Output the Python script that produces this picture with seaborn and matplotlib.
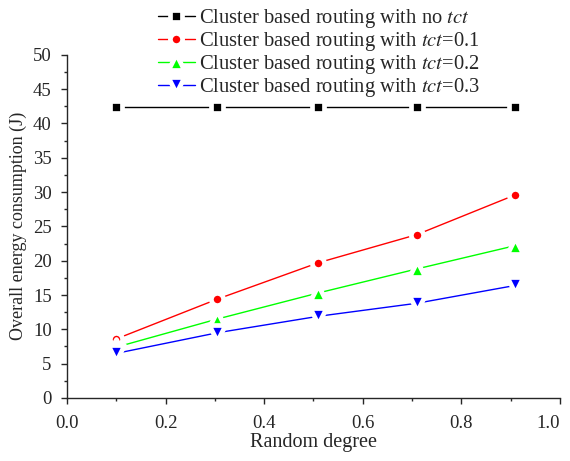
import matplotlib
matplotlib.use("Agg")
import matplotlib.pyplot as plt
from matplotlib.markers import MarkerStyle
import seaborn as sns
import pandas as pd
from matplotlib.ticker import MultipleLocator

# values
random_degree = [0.1, 0.305, 0.51, 0.71, 0.91]
no_tct = [42.4, 42.4, 42.4, 42.4, 42.4]
tct_01 = [8.6, 14.4, 19.7, 23.8, 29.6]
tct_02 = [7.4, 11.5, 15.3, 18.8, 22.2]
tct_03 = [6.5, 9.5, 11.9, 13.8, 16.4]

labels = [
    "Cluster based routing with no $tct$",
    "Cluster based routing with $tct$=0.1",
    "Cluster based routing with $tct$=0.2",
    "Cluster based routing with $tct$=0.3",
]
xtick_labels = ["0.0", "0.2", "0.4", "0.6", "0.8", "1.0"]
series = [no_tct, tct_01, tct_02, tct_03]
colors = ["black", "#ff0000", "#00ff00", "#0000ff"]
markers = ["s", "o", "^", "v"]
msizes = [8.0, 8.8, 12.0, 12.0]

sns.set_style("ticks")
plt.rcParams["font.family"] = ["Liberation Serif", "DejaVu Serif"]
plt.rcParams["mathtext.fontset"] = "stix"

fig = plt.figure(figsize=(5.7, 4.61), dpi=100)
ax = fig.add_axes([0.1175, 0.1367, 0.8647, 0.7446])

# white marker edges leave the small gap around each marker, as in Origin plots
for vals, lab, c, m, ms in zip(series, labels, colors, markers, msizes):
    df = pd.DataFrame({"x": random_degree, "y": vals})
    sns.lineplot(data=df, x="x", y="y", ax=ax, color=c,
                 marker=MarkerStyle(m, joinstyle="round"), markersize=ms,
                 markeredgecolor="white", markeredgewidth=3.4, linewidth=1.0,
                 label=lab, legend=False)

ax.set_xlim(0, 1.0)
ax.set_ylim(0, 50)
ax.xaxis.set_major_locator(MultipleLocator(0.2))
ax.xaxis.set_minor_locator(MultipleLocator(0.1))
ax.yaxis.set_major_locator(MultipleLocator(5))
ax.yaxis.set_minor_locator(MultipleLocator(2.5))
ax.set_xticks([0.0, 0.2, 0.4, 0.6, 0.8, 1.0])
ax.set_xticklabels(xtick_labels)
ax.get_xticklabels()[-1].set_horizontalalignment("right")
ax.tick_params(axis="both", which="major", labelsize=13.5, length=4, width=1,
               direction="out")
ax.tick_params(axis="x", which="major", pad=8)
ax.tick_params(axis="y", which="major", pad=7)
ax.tick_params(axis="both", which="minor", length=2.5, width=1, direction="out")
for s in ["top", "right"]:
    ax.spines[s].set_visible(False)
for s in ["left", "bottom"]:
    ax.spines[s].set_linewidth(1.0)
ax.set_xlabel("Random degree", fontsize=14.5, labelpad=1)
ax.set_ylabel("Overall energy consumption (J)", fontsize=13, labelpad=4)

handles, labs = ax.get_legend_handles_labels()
fig.legend(handles, labs, loc="upper left", bbox_to_anchor=(0.255, 1.012),
           frameon=False, fontsize=14.8, handlelength=1.8, handletextpad=0.2,
           labelspacing=0.0, borderaxespad=0.2)

plt.savefig("out.png", dpi=100)
